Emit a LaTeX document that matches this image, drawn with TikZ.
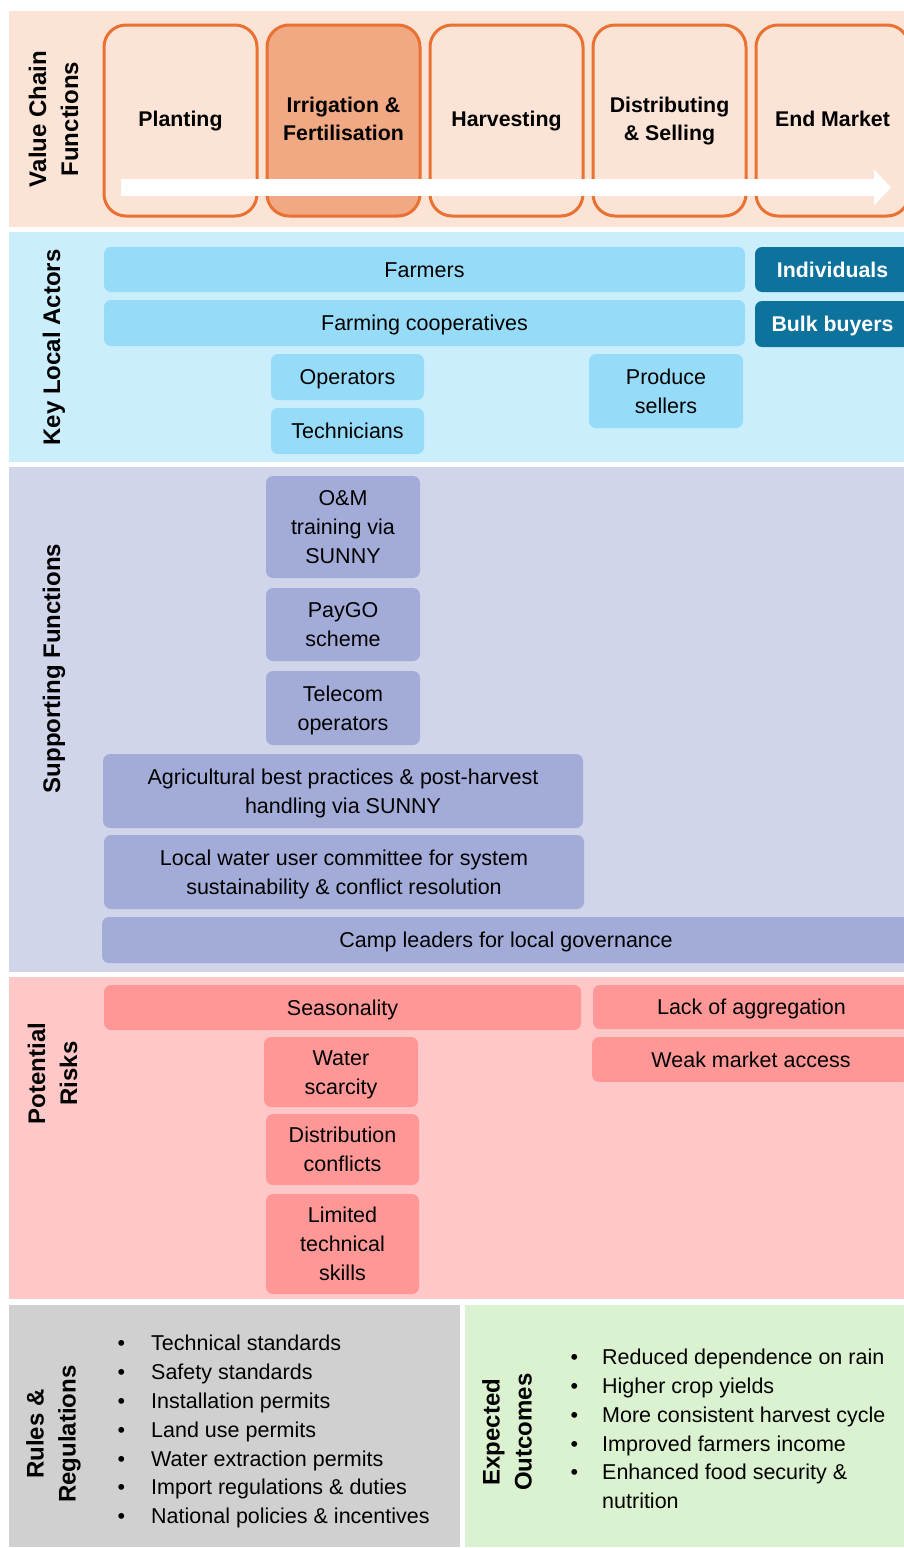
\documentclass[tikz,border=0pt]{standalone}
\usepackage{fontspec}
\setmainfont{Liberation Sans}
\usetikzlibrary{arrows.meta}

% palette
\definecolor{vcbg}{RGB}{251,227,214}
\definecolor{vcline}{RGB}{233,113,50}
\definecolor{vcfill}{RGB}{241,169,131}
\definecolor{kabg}{RGB}{202,238,251}
\definecolor{kafill}{RGB}{150,220,248}
\definecolor{kadark}{RGB}{13,115,156}
\definecolor{sfbg}{RGB}{208,213,234}
\definecolor{sffill}{RGB}{163,172,216}
\definecolor{prbg}{RGB}{255,200,200}
\definecolor{prfill}{RGB}{255,151,151}
\definecolor{rrbg}{RGB}{208,208,208}
\definecolor{eobg}{RGB}{218,242,208}

% rounded tile given by its corners: name, x1, y1, x2, y2, extra style, text
\newcommand\tileat[7]{%
  \node[tile,#6,minimum width={(#4-#2)*1pt},minimum height={(#5-#3)*1pt}]
    (#1) at ({(#2+#4)/2},{(#3+#5)/2}) {\rule{0pt}{24pt}#7\strut};}

\begin{document}
\begin{tikzpicture}[x=1pt,y=-1pt,
  bandtitle/.style={rotate=90,inner sep=0,align=center,
    font=\fontsize{24}{32}\selectfont\bfseries},
  vcbox/.style={draw=vcline,line width=3pt,rounded corners=22pt,
    minimum width=153pt,minimum height=191pt,inner sep=0,align=center,
    font=\fontsize{21.3}{28}\selectfont\bfseries},
  tile/.style={rounded corners=7pt,inner sep=0,align=center,
    font=\fontsize{21.5}{28.8}\selectfont},
  actor/.style={fill=kafill},
  buyer/.style={fill=kadark,text=white,font=\fontsize{21.3}{28.8}\selectfont\bfseries},
  support/.style={fill=sffill},
  risk/.style={fill=prfill},
  listtext/.style={inner sep=0,anchor=west,font=\fontsize{21.5}{28.8}\selectfont},
]
\useasboundingbox (0,0) rectangle (904,1548);
\fill[white] (0,0) rectangle (904,1548);

% horizontal bands
\fill[vcbg] (9,11) rectangle (904,227);
\fill[kabg] (9,232) rectangle (904,462);
\fill[sfbg] (9,467) rectangle (904,972);
\fill[prbg] (9,977) rectangle (904,1299);
\fill[rrbg] (9,1305) rectangle (460,1547);
\fill[eobg] (465,1305) rectangle (904,1547);

% band titles
\node[bandtitle] (tvc) at (53.5,119) {Value Chain\\Functions};
\node[bandtitle] (tka) at (54,347.5) {Key Local Actors};
\node[bandtitle] (tsf) at (54,668.5) {Supporting Functions};
\node[bandtitle] (tpr) at (52.5,1073.5) {Potential\\Risks};
\node[bandtitle] (trr) at (53.5,1434) {Rules \&\\Regulations};
\node[bandtitle] (teo) at (507,1432) {Expected\\Outcomes};

% value chain steps
\node[vcbox,fill=vcbg]   (planting)   at (180.5,120.5) {\rule{0pt}{21pt}Planting\strut};
\node[vcbox,fill=vcfill] (irrigation) at (343.5,120.5) {\strut Irrigation \&\\Fertilisation\strut};
\node[vcbox,fill=vcbg]   (harvesting) at (506.5,120.5) {\rule{0pt}{21pt}Harvesting\strut};
\node[vcbox,fill=vcbg]   (selling)    at (669.5,120.5) {\rule{0pt}{21pt}Distributing\\\& Selling\strut};
\node[vcbox,fill=vcbg]   (market)     at (832.5,120.5) {\rule{0pt}{21pt}End Market\strut};

% flow arrow across the chain
\coordinate (flowstart) at (121,187.5);
\coordinate (flowend) at (891,187.5);
\draw[white,line width=17pt,-{Triangle[length=17pt,width=35pt]}] (flowstart) -- (flowend);

% key local actors
\tileat{farmers}{104}{247}{745}{292}{actor}{Farmers}
\tileat{coops}{104}{300}{745}{346}{actor}{Farming cooperatives}
\tileat{individuals}{755}{247}{910}{292}{buyer}{Individuals}
\tileat{bulk}{755}{301}{910}{347}{buyer}{Bulk buyers}
\tileat{operators}{271}{354}{424}{400}{actor}{Operators}
\tileat{technicians}{271}{408}{424}{454}{actor}{Technicians}
\tileat{sellers}{589}{354}{743}{428}{actor}{Produce\\sellers}

% supporting functions
\tileat{om}{266}{476}{420}{578}{support}{O\&M\\training via\\SUNNY}
\tileat{paygo}{266}{588}{420}{661}{support}{PayGO\\scheme}
\tileat{telecom}{266}{671}{420}{745}{support}{Telecom\\operators}
\tileat{agri}{103}{754}{583}{828}{support}{Agricultural best practices \& post-harvest\\handling via SUNNY}
\tileat{water}{104}{835}{584}{909}{support}{Local water user committee for system\\sustainability \& conflict resolution}
\tileat{camp}{102}{917}{910}{963}{support}{Camp leaders for local governance}

% potential risks
\tileat{season}{104}{985}{581}{1030}{risk}{Seasonality}
\tileat{aggregation}{593}{985}{910}{1029}{risk}{Lack of aggregation}
\tileat{scarcity}{264}{1037}{418}{1107}{risk}{Water\\scarcity}
\tileat{access}{592}{1037}{910}{1082}{risk}{Weak market access}
\tileat{conflicts}{266}{1114}{419}{1185}{risk}{Distribution\\conflicts}
\tileat{skills}{266}{1194}{419}{1294}{risk}{Limited\\technical\\skills}

% rules and regulations
\node[listtext] (rules) at (117.5,1431.5) {%
  \begin{tabular}{@{}p{33.5pt}@{}l@{}}
  \textbullet & Technical standards\\
  \textbullet & Safety standards\\
  \textbullet & Installation permits\\
  \textbullet & Land use permits\\
  \textbullet & Water extraction permits\\
  \textbullet & Import regulations \& duties\\
  \textbullet & National policies \& incentives
  \end{tabular}};

% expected outcomes
\node[listtext] (outcomes) at (570.5,1431) {%
  \begin{tabular}{@{}p{31.5pt}@{}l@{}}
  \textbullet & Reduced dependence on rain\\
  \textbullet & Higher crop yields\\
  \textbullet & More consistent harvest cycle\\
  \textbullet & Improved farmers income\\
  \textbullet & Enhanced food security \&\\
              & nutrition
  \end{tabular}};
\end{tikzpicture}
\end{document}
